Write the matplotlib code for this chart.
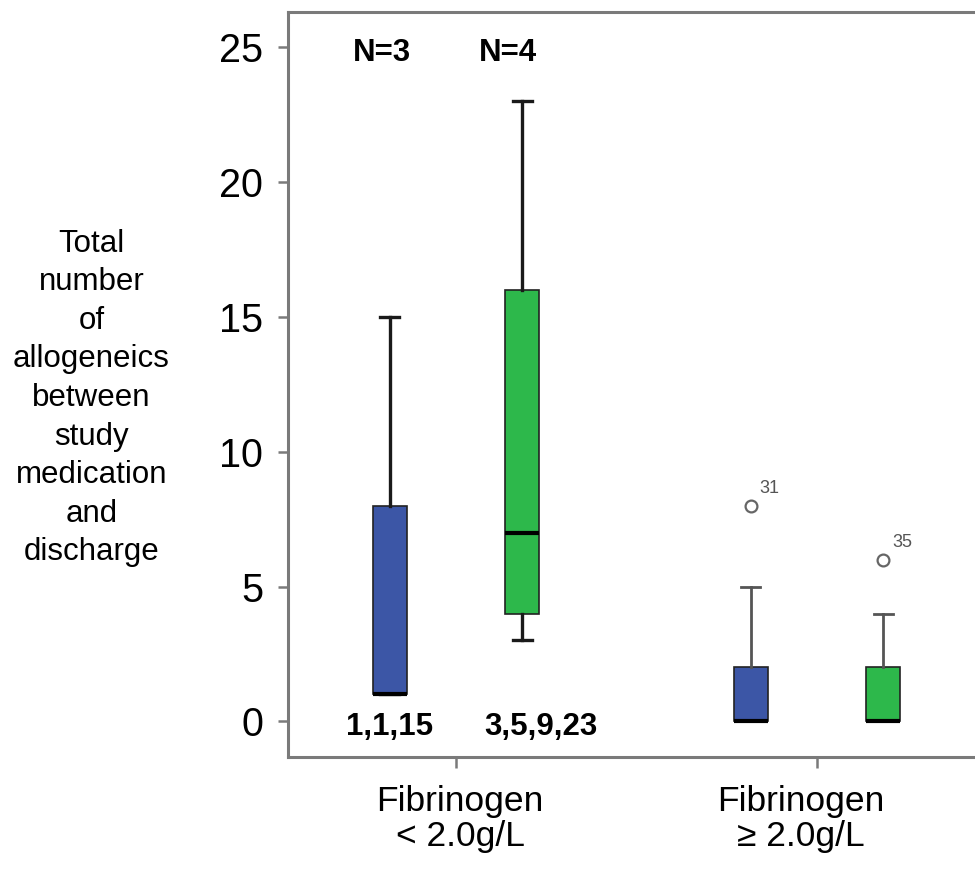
import matplotlib
matplotlib.use("Agg")
import matplotlib.pyplot as plt

plt.rcParams['font.family'] = ['Liberation Sans', 'DejaVu Sans']

# ---- data ----
groups = ["Fibrinogen\n< 2.0g/L", "Fibrinogen\n\u2265 2.0g/L"]
series_names = ["blue", "green"]
medians = [[1, 7], [0, 0]]
q1s = [[1, 4], [0, 0]]
q3s = [[8, 16], [2, 2]]
whis_lo = [[1, 3], [0, 0]]
whis_hi = [[15, 23], [5, 4]]
outliers = [[[], []], [[8], [6]]]
outlier_ids = [[[], []], [["31"], ["35"]]]
n_labels = ["N=3", "N=4"]
value_labels = ["1,1,15", "3,5,9,23"]
yticks = [0, 5, 10, 15, 20, 25]

colors = ["#3C56A6", "#2DB84B"]

fig = plt.figure(figsize=(9.75, 8.74), dpi=100)
ax = fig.add_axes([288 / 975, 117.3 / 874, 687 / 975, 745 / 874])

offset = 0.184
width = 0.094
for gi in range(len(groups)):
    for si in range(len(series_names)):
        pos = gi + 1 + (-offset if si == 0 else offset)
        st = dict(med=medians[gi][si], q1=q1s[gi][si], q3=q3s[gi][si],
                  whislo=whis_lo[gi][si], whishi=whis_hi[gi][si],
                  fliers=outliers[gi][si])
        wcol = "#1a1a1a" if gi == 0 else "#555555"
        wlw = 2.4 if gi == 0 else 2.0
        ax.bxp([st], positions=[pos], widths=width, patch_artist=True,
               showfliers=True,
               boxprops=dict(facecolor=colors[si], edgecolor="#222222", linewidth=1.2),
               medianprops=dict(color="black", linewidth=3.0, solid_capstyle="butt"),
               whiskerprops=dict(color=wcol, linewidth=wlw),
               capprops=dict(color=wcol, linewidth=wlw),
               capwidths=0.053,
               flierprops=dict(marker="o", markersize=8.5, markerfacecolor="white",
                               markeredgecolor="#666666", markeredgewidth=1.6))
        for v, lab in zip(outliers[gi][si], outlier_ids[gi][si]):
            ax.annotate(lab, xy=(pos, v), xytext=(6.5, 12.5), textcoords="offset points",
                        ha="left", va="center", fontsize=13, color="#555555")

# N labels and value labels (group 1)
for si, (nl, vl) in enumerate(zip(n_labels, value_labels)):
    nx = [0.795, 1.144][si]
    vx = [1.0 - 66 / 361, 1.0 + 85 / 361][si]
    ax.text(nx, 24.79, nl, ha="center", va="center", fontsize=22.5, fontweight="bold")
    ax.text(vx, -0.2, vl, ha="center", va="center", fontsize=22.5, fontweight="bold")

ax.set_xlim(1 - 168 / 361, 2 + 158 / 361)
ax.set_ylim(-1.31, 26.32)
ax.set_yticks(yticks)
ax.set_yticklabels([str(t) for t in yticks])
ax.set_xticks([1, 2])
ax.set_xticklabels(["", ""])

for sp in ["left", "bottom", "top"]:
    ax.spines[sp].set_color("#7a7a7a")
    ax.spines[sp].set_linewidth(2.2)
ax.spines["right"].set_visible(False)
ax.tick_params(axis="y", direction="out", length=7.5, width=1.8, color="#7a7a7a",
               labelsize=28.5, pad=10.5)
ax.tick_params(axis="x", direction="out", length=8, width=1.8, color="#7a7a7a")

# x category labels
label_x = [1 + 4 / 361, 2 - 16 / 361]
for gx, g in zip(label_x, groups):
    ax.text(gx, -0.038, g, transform=ax.get_xaxis_transform(), ha="center", va="top",
            fontsize=25.5, linespacing=1.08, multialignment="center")

fig.text(91.5 / 975, 1 - 398 / 874,
         "Total\nnumber\nof\nallogeneics\nbetween\nstudy\nmedication\nand\ndischarge",
         ha="center", va="center", fontsize=22.5, linespacing=1.37, multialignment="center")

fig.savefig("out.png", dpi=100)
